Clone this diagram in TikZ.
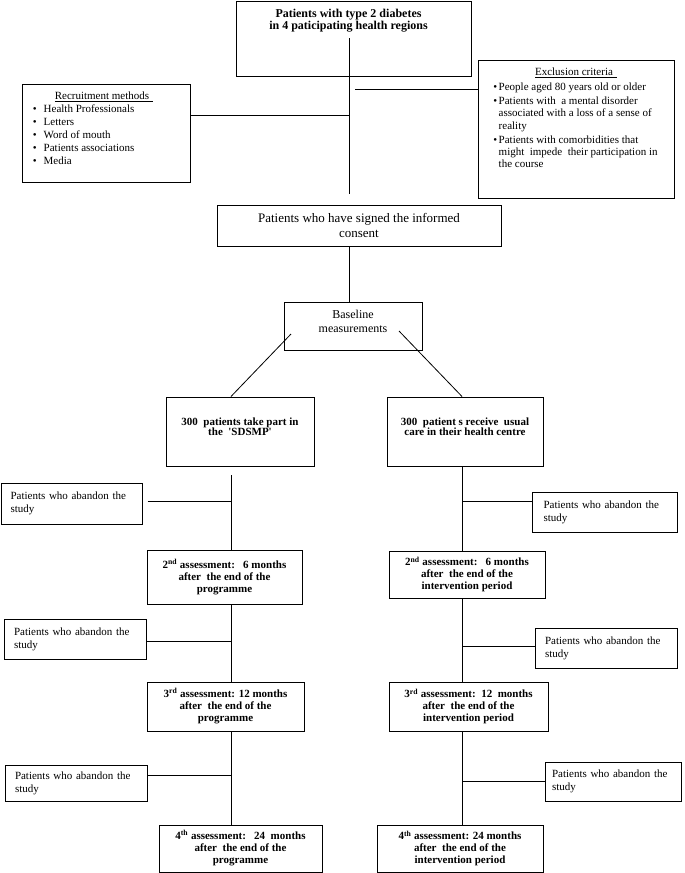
\documentclass[tikz,border=0pt]{standalone}
\usepackage{fontspec}
\setmainfont{Liberation Serif}
\usetikzlibrary{positioning}

\newcommand{\dotitem}[1][7pt]{\llap{\textbullet\hspace{#1}}}

\tikzset{
  frame/.style={rectangle, draw, line width=1pt, inner sep=0pt, align=center},
  link/.style={draw, line width=0.8pt},
}

\begin{document}
\begin{tikzpicture}[x=1pt, y=-1pt]
  \tikzset{
    heading/.style={inner sep=0pt, align=center, font=\fontsize{12}{12.5}\selectfont\bfseries},
    caption/.style={inner sep=0pt, font=\fontsize{11}{13}\selectfont},
    items/.style={inner sep=0pt, align=left, font=\fontsize{11}{13}\selectfont},
    grouptext/.style={inner sep=0pt, align=center, font=\fontsize{11}{10.5}\selectfont\bfseries},
    visit/.style={frame, font=\fontsize{11}{12}\selectfont\bfseries},
    dropout/.style={frame, minimum width=142pt, minimum height=40pt, text width=122pt,
      align=left, font=\fontsize{11}{13}\selectfont},
  }
  \useasboundingbox (0,0) rectangle (685,873);

  % Population, recruitment and exclusion
  \node[frame, minimum width=235pt, minimum height=75pt] (pop) at (353.5,38.5) {};
  \node[heading, below=8pt of pop.north, xshift=-5pt]
    {Patients with type 2 diabetes\\in 4 paticipating health regions};

  \node[frame, minimum width=168pt, minimum height=98pt] (recruit) at (106,133) {};
  \node[caption, below=8pt of recruit.north, xshift=-2pt] {\underline{Recruitment methods\hspace{4pt}}};
  \node[items, anchor=north west] at ([xshift=22pt, yshift=-21pt]recruit.north west)
    {\dotitem Health Professionals\\ \dotitem Letters\\ \dotitem Word of mouth\\
     \dotitem Patients associations\\ \dotitem Media};

  \node[frame, minimum width=196pt, minimum height=138pt] (excl) at (576,129) {};
  \node[caption, below=8pt of excl.north] {\underline{Exclusion criteria\hspace{4pt}}};
  \node[items, font=\fontsize{11}{12.3}\selectfont, anchor=north west]
    at ([xshift=21pt, yshift=-23.5pt]excl.north west)
    {\dotitem[1.5pt]People aged 80 years old or older\\[1.5pt]
     \dotitem[1.5pt]Patients with\ \ a mental disorder\\ associated with a loss of a sense of\\ reality\\[1.5pt]
     \dotitem[1.5pt]Patients with comorbidities that\\ might\ \ impede\ \ their participation in\\ the course};

  % Consent and baseline
  \node[frame, minimum width=284pt, minimum height=41pt, font=\fontsize{13}{15.5}\selectfont]
    (consent) at (359,225.5) {Patients who have signed the informed\\consent};
  \node[frame, minimum width=138pt, minimum height=48pt] (base) at (353,326) {};
  \node[inner sep=0pt, align=center, font=\fontsize{12}{14}\selectfont]
    at ([yshift=5pt]base.center) {Baseline\\measurements};

  % Two arms
  \node[frame, minimum width=148pt, minimum height=69pt] (sdsmp) at (240,431.5) {};
  \node[grouptext, below=21pt of sdsmp.north]
    {300\ \ patients take part in\\the\ \ \textquotesingle SDSMP\textquotesingle};
  \node[frame, minimum width=156pt, minimum height=69pt] (usual) at (465,431.5) {};
  \node[grouptext, below=21pt of usual.north]
    {300\ \ patient s receive\ \ usual\\care in their health centre};

  % Follow-up assessments
  \node[visit, minimum width=155pt, minimum height=54pt] (visL2) at (224.5,577)
    {2\textsuperscript{nd} assessment:\ \ \ 6 months\\after\ \ the end of the\\programme};
  \node[visit, minimum width=156pt, minimum height=47pt] (visR2) at (467,574.5)
    {2\textsuperscript{nd} assessment:\ \ \ 6 months\\after\ \ the end of the\\intervention period};
  \node[visit, minimum width=157pt, minimum height=49pt] (visL3) at (225.5,706.5)
    {3\textsuperscript{rd} assessment: 12 months\\after\ \ the end of the\\programme};
  \node[visit, minimum width=159pt, minimum height=49pt] (visR3) at (468.5,706.5)
    {3\textsuperscript{rd} assessment:\ \ 12\ \ months\\after\ \ the end of the\\intervention period};
  \node[visit, minimum width=163pt, minimum height=47pt] (visL4) at (240.5,848.5)
    {4\textsuperscript{th} assessment:\ \ \ 24\ \ months\\after\ \ the end of the\\programme};
  \node[visit, minimum width=166pt, minimum height=47pt] (visR4) at (460,848.5)
    {4\textsuperscript{th} assessment: 24 months\\after\ \ the end of the\\intervention period};

  % Drop-outs
  \node[dropout, minimum width=141pt, minimum height=41pt] (outL1) at (71.5,503.5) {Patients who abandon the\\study};
  \node[dropout] (outL2) at (75,639) {Patients who abandon the\\study};
  \node[dropout, minimum height=36pt] (outL3) at (76,783) {Patients who abandon the\\study};
  \node[dropout, minimum width=145pt] (outR1) at (604.5,512) {Patients who abandon the\\study};
  \node[dropout] (outR2) at (606,648) {Patients who abandon the\\study};
  \node[dropout, minimum width=136pt, minimum height=39pt] (outR3) at (613,781.5) {Patients who abandon the\\study};

  % Connectors
  \coordinate (ttop) at (349,38);
  \coordinate (tbot) at (349,194);
  \coordinate (recin) at (349,115);
  \coordinate (exclin) at (355,89);
  \coordinate (forkL) at (291,334);
  \coordinate (forkR) at (399,331);
  \coordinate (colL) at (231,475);
  \coordinate (colR) at (462,0);

  \draw[link] (ttop) -- (tbot);
  \draw[link] (recruit.east |- recin) -- (recin);
  \draw[link] (exclin) -- (exclin -| excl.west);
  \draw[link] (consent.south -| ttop) -- (base.north -| ttop);
  \draw[link] (forkL) -- (sdsmp.north -| colL);
  \draw[link] (forkR) -- (usual.north -| colR);

  \draw[link] (colL) -- (visL2.north -| colL);
  \draw[link] (visL2.south -| colL) -- (visL3.north -| colL);
  \draw[link] (visL3.south -| colL) -- (visL4.north -| colL);
  \draw[link] (usual.south -| colR) -- (visR2.north -| colR);
  \draw[link] (visR2.south -| colR) -- (visR3.north -| colR);
  \draw[link] (visR3.south -| colR) -- (visR4.north -| colR);

  \coordinate (dropL1) at ([xshift=5pt, yshift=2.5pt]outL1.east);
  \coordinate (dropL2) at ([yshift=-2pt]outL2.east);
  \coordinate (dropL3) at ([yshift=8pt]outL3.east);
  \coordinate (dropR1) at ([yshift=11pt]outR1.west);
  \coordinate (dropR2) at ([yshift=2pt]outR2.west);
  \coordinate (dropR3) at (outR3.west);
  \draw[link] (dropL1) -- (dropL1 -| colL);
  \draw[link] (dropL2) -- (dropL2 -| colL);
  \draw[link] (dropL3) -- (dropL3 -| colL);
  \draw[link] (dropR1) -- (dropR1 -| colR);
  \draw[link] (dropR2) -- (dropR2 -| colR);
  \draw[link] (dropR3) -- (dropR3 -| colR);

\end{tikzpicture}
\end{document}
